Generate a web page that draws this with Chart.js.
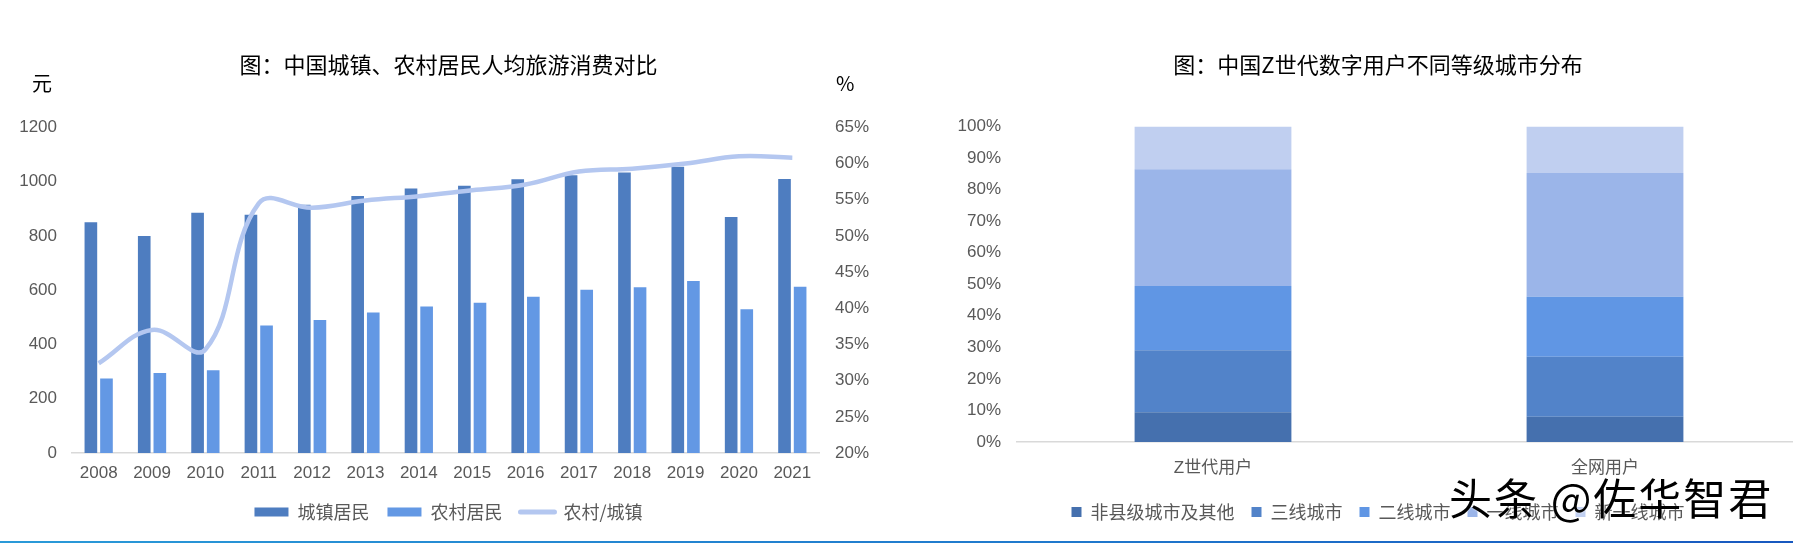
<!DOCTYPE html>
<html>
<head>
<meta charset="utf-8">
<script src="https://cdn.jsdelivr.net/npm/chart.js@4.4.0/dist/chart.umd.min.js"></script>
<style>
html, body { margin: 0; padding: 0; background: #fff; overflow: hidden; }
body { width: 1793px; height: 543px; position: relative; }
#leftBox { position: absolute; left: 0; top: 0; width: 897px; height: 543px; }
#rightBox { position: absolute; left: 955px; top: 0; width: 860px; height: 543px; }
.unit { position: absolute; top: 71px; font: 20px/24px "Noto Sans CJK SC", sans-serif; color: #000; }
#wm { position: absolute; left: 1449px; top: 473px; font: 43px/46px "Noto Sans CJK SC", sans-serif; color: #000; letter-spacing: 2px; white-space: nowrap; text-shadow: 0 0 2px #fff; }
#edge { position: absolute; left: 0; top: 541px; width: 1793px; height: 2px; background: linear-gradient(to right, #2a9ad8, #1f78cc 60%, #1858bf); }
</style>
</head>
<body>
<div id="leftBox"><canvas id="spendChart"></canvas></div>
<div id="rightBox"><canvas id="tierChart"></canvas></div>
<div class="unit" style="left:32px">元</div>
<div class="unit" style="left:836px">%</div>
<div id="wm">头条 @佐华智君</div>
<div id="edge"></div>
<script>
// 左图：城镇、农村居民人均旅游消费
const years = ['2008', '2009', '2010', '2011', '2012', '2013', '2014', '2015', '2016', '2017', '2018', '2019', '2020', '2021'];
const urbanSpend = [850, 800, 885, 878, 915, 947, 975, 985, 1009, 1024, 1034, 1055, 870, 1010];
const ruralSpend = [275, 295, 305, 470, 490, 518, 540, 554, 576, 602, 611, 634, 530, 613];
const ruralUrbanRatio = [32.4, 37.0, 34.3, 54.5, 53.9, 54.9, 55.5, 56.3, 57.1, 58.9, 59.3, 60.0, 61.0, 60.8];

// 右图：Z世代数字用户城市等级分布 (%)
const userGroups = ['Z世代用户', '全网用户'];
const cityTiers = ['非县级城市及其他', '三线城市', '二线城市', '一线城市', '新一线城市'];
const genZShare = [9.4, 19.7, 20.3, 37.0, 13.6];
const allUserShare = [8.0, 19.0, 19.0, 39.2, 14.8];

const tierColors = ['#4570ae', '#5283c9', '#6096e4', '#9bb5e9', '#c0cff0'];
const tickFont = { size: 17, family: '"Liberation Sans", "Noto Sans CJK SC", sans-serif' };
const legendFont = { size: 18, family: '"Noto Sans CJK SC", sans-serif' };
const cjkFont = '"Noto Sans CJK SC", sans-serif';
const grey = '#595959';

Chart.defaults.animation = false;
Chart.defaults.responsive = true;
Chart.defaults.maintainAspectRatio = false;

new Chart(document.getElementById('spendChart'), {
    type: 'bar',
    data: {
        labels: years,
        datasets: [{
            label: '城镇居民',
            data: urbanSpend,
            backgroundColor: '#4e7dc0',
            yAxisID: 'y',
            order: 1
        }, {
            label: '农村居民',
            data: ruralSpend,
            backgroundColor: '#6398e4',
            yAxisID: 'y',
            order: 1
        }, {
            type: 'line',
            label: '农村/城镇',
            data: ruralUrbanRatio,
            borderColor: '#b4c7f0',
            backgroundColor: '#b4c7f0',
            borderWidth: 4.5,
            pointRadius: 0,
            tension: 0.4,
            yAxisID: 'y1',
            order: 0
        }]
    },
    options: {
        layout: { padding: { left: 0, right: 0, top: 0, bottom: 12 } },
        datasets: { bar: { categoryPercentage: 0.585, barPercentage: 0.81 } },
        plugins: {
            tooltip: { enabled: false },
            title: {
                display: true,
                text: '图：中国城镇、农村居民人均旅游消费对比',
                color: '#000',
                font: { size: 22, family: cjkFont, weight: 'normal' },
                padding: { top: 51.5, bottom: 49.5 }
            },
            legend: {
                position: 'bottom',
                labels: {
                    usePointStyle: true,
                    pointStyleWidth: 34,
                    boxHeight: 9,
                    padding: 18,
                    color: grey,
                    font: legendFont,
                    sort: (a, b) => a.datasetIndex - b.datasetIndex,
                    generateLabels(chart) {
                        const items = Chart.defaults.plugins.legend.labels.generateLabels(chart);
                        items.forEach(it => {
                            const ds = chart.data.datasets[it.datasetIndex];
                            if (ds.type === 'line') {
                                it.pointStyle = 'line';
                                it.strokeStyle = ds.borderColor;
                                it.lineWidth = 5;
                                it.lineCap = 'round';
                            } else {
                                it.pointStyle = 'rect';
                                it.fillStyle = ds.backgroundColor;
                                it.lineWidth = 0;
                            }
                        });
                        return items;
                    }
                }
            }
        },
        scales: {
            x: {
                grid: { display: false, drawTicks: false },
                border: { display: true, color: '#d9d9d9', width: 1.5 },
                ticks: { color: grey, font: tickFont, padding: 10, maxRotation: 0 },
                afterFit: s => { s.height = 32; }
            },
            y: {
                position: 'left',
                min: 0, max: 1200,
                grid: { display: false, drawTicks: false },
                border: { display: false },
                ticks: { stepSize: 200, color: grey, font: tickFont, padding: 15, callback: v => String(v) },
                afterFit: s => { s.width = 72; }
            },
            y1: {
                position: 'right',
                min: 20, max: 65,
                grid: { display: false, drawTicks: false },
                border: { display: false },
                ticks: { stepSize: 5, color: grey, font: tickFont, padding: 16, callback: v => v + '%' },
                afterFit: s => { s.width = 78; }
            }
        }
    }
});

new Chart(document.getElementById('tierChart'), {
    type: 'bar',
    data: {
        labels: userGroups,
        datasets: cityTiers.map((tier, i) => ({
            label: tier,
            data: [genZShare[i], allUserShare[i]],
            backgroundColor: tierColors[i],
            borderWidth: 0
        }))
    },
    options: {
        layout: { padding: { left: 0, right: 14, top: 0, bottom: 12 } },
        datasets: { bar: { categoryPercentage: 0.8, barPercentage: 0.5 } },
        plugins: {
            tooltip: { enabled: false },
            title: {
                display: true,
                text: '图：中国Z世代数字用户不同等级城市分布',
                color: '#000',
                font: { size: 22, family: cjkFont, weight: 'normal' },
                padding: { top: 51.5, bottom: 48.5 }
            },
            legend: {
                position: 'bottom',
                labels: {
                    boxWidth: 10,
                    boxHeight: 10,
                    padding: 17,
                    color: grey,
                    font: legendFont
                }
            }
        },
        scales: {
            x: {
                stacked: true,
                grid: { display: false, drawTicks: false },
                border: { display: true, color: '#d9d9d9', width: 1.5 },
                ticks: { color: grey, font: tickFont, padding: 16 },
                afterFit: s => { s.height = 44; }
            },
            y: {
                stacked: true,
                min: 0, max: 100,
                grid: { display: false, drawTicks: false },
                border: { display: false },
                ticks: { stepSize: 10, color: grey, font: tickFont, padding: 16, callback: v => v + '%' },
                afterFit: s => { s.width = 62; }
            }
        }
    }
});
</script>
</body>
</html>
